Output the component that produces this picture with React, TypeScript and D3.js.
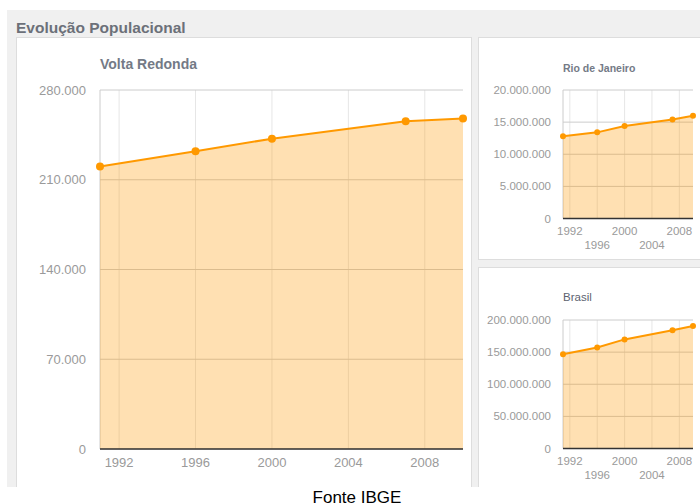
import React from "react";
import * as d3 from "d3";

const years = [1991, 1996, 2000, 2007, 2010];
const voltaRedonda = [220305, 232183, 242063, 255653, 257803];
const rioDeJaneiro = [12807706, 13406379, 14391282, 15420375, 15989929];
const brasil = [146825475, 157070163, 169799170, 183987291, 190755799];
const xTickYears = [1992, 1996, 2000, 2004, 2008];
const vrTicks = [0, 70000, 140000, 210000, 280000];
const rjTicks = [0, 5000000, 10000000, 15000000, 20000000];
const brTicks = [0, 50000000, 100000000, 150000000, 200000000];

const locale = d3.formatLocale({ decimal: ",", thousands: ".", grouping: [3], currency: ["R$", ""] });
const fmt = locale.format(",d");
const FONT = "'Liberation Sans', Arial, sans-serif";
const ORANGE = "#ff9900";

type ChartProps = {
  title: string;
  titleBold: boolean;
  titleSize: number;
  titleColor: string;
  values: number[];
  ticks: number[];
  left: number;
  right: number;
  top: number;
  bottom: number;
  labelRight: number;
  fontSize: number;
  titleY: number;
  stagger: boolean;
  r: number;
};

function Chart(p: ChartProps) {
  const x = d3.scaleLinear().domain([years[0], years[years.length - 1]]).range([p.left, p.right]);
  const y = d3.scaleLinear().domain([0, p.ticks[p.ticks.length - 1]]).range([p.bottom, p.top]);
  const data = years.map((yr, i) => ({ yr, v: p.values[i] }));
  const area = d3.area<{ yr: number; v: number }>().x(d => x(d.yr)).y0(y(0)).y1(d => y(d.v));
  const line = d3.line<{ yr: number; v: number }>().x(d => x(d.yr)).y(d => y(d.v));
  return (
    <g fontFamily={FONT}>
      <text x={p.left} y={p.titleY} fontSize={p.titleSize} fontWeight={p.titleBold ? "bold" : "normal"} fill={p.titleColor}>{p.title}</text>
      {xTickYears.map(t => (
        <line key={"v" + t} x1={x(t)} x2={x(t)} y1={p.top} y2={p.bottom} stroke="#e6e6e6" strokeWidth={1} />
      ))}
      {p.ticks.map(t => (
        <line key={"h" + t} x1={p.left} x2={p.right} y1={y(t)} y2={y(t)} stroke="#cccccc" strokeWidth={1} />
      ))}
      <line x1={p.left} x2={p.left} y1={p.top} y2={p.bottom} stroke="#cccccc" strokeWidth={1} />
      <path d={area(data) || ""} fill={ORANGE} fillOpacity={0.3} />
      <path d={line(data) || ""} fill="none" stroke={ORANGE} strokeWidth={2} />
      {data.map(d => (
        <circle key={d.yr} cx={x(d.yr)} cy={y(d.v)} r={p.r} fill={ORANGE} />
      ))}
      <line x1={p.left} x2={p.right} y1={p.bottom} y2={p.bottom} stroke="#333333" strokeWidth={1.5} />
      {p.ticks.map(t => (
        <text key={"yl" + t} x={p.labelRight} y={y(t)} dy="0.35em" textAnchor="end" fontSize={p.fontSize} fill="#9a9a9a">{fmt(t)}</text>
      ))}
      {xTickYears.map((t, i) => (
        <text key={"xl" + t} x={x(t)} y={p.bottom + (p.stagger ? (i % 2 === 0 ? 16 : 30) : 18)} textAnchor="middle" fontSize={p.fontSize} fill="#9a9a9a">{t}</text>
      ))}
    </g>
  );
}

export default function App() {
  return (
    <svg width={700} height={504} style={{ position: "absolute", left: 0, top: 0 }}>
      <rect x={0} y={0} width={700} height={504} fill="#ffffff" />
      <rect x={7} y={10} width={693} height={477} fill="#f0f0f0" />
      <text x={16} y={33} fontFamily={FONT} fontSize={15.5} fontWeight="bold" fill="#6c7079">Evolução Populacional</text>
      <rect x={16.5} y={37.5} width={455} height={460} fill="#ffffff" stroke="#dddddd" />
      <rect x={478.5} y={37.5} width={240} height={222} fill="#ffffff" stroke="#dddddd" />
      <rect x={478.5} y={267.5} width={240} height={240} fill="#ffffff" stroke="#dddddd" />
      <rect x={7} y={487} width={693} height={17} fill="#ffffff" />
      <Chart title="Volta Redonda" titleBold={true} titleSize={14} titleColor="#747a86" values={voltaRedonda} ticks={vrTicks}
        left={100} right={463} top={90} bottom={449} labelRight={86} fontSize={13} titleY={69} stagger={false} r={4} />
      <Chart title="Rio de Janeiro" titleBold={true} titleSize={10.5} titleColor="#747a86" values={rioDeJaneiro} ticks={rjTicks}
        left={563} right={693} top={90} bottom={218.5} labelRight={551} fontSize={11.5} titleY={72} stagger={true} r={3} />
      <Chart title="Brasil" titleBold={false} titleSize={11.5} titleColor="#5c6270" values={brasil} ticks={brTicks}
        left={563} right={693} top={320} bottom={448.5} labelRight={551} fontSize={11.5} titleY={301} stagger={true} r={3} />
      <text x={357} y={503} textAnchor="middle" fontFamily={FONT} fontSize={17} fill="#000000">Fonte IBGE</text>
    </svg>
  );
}
